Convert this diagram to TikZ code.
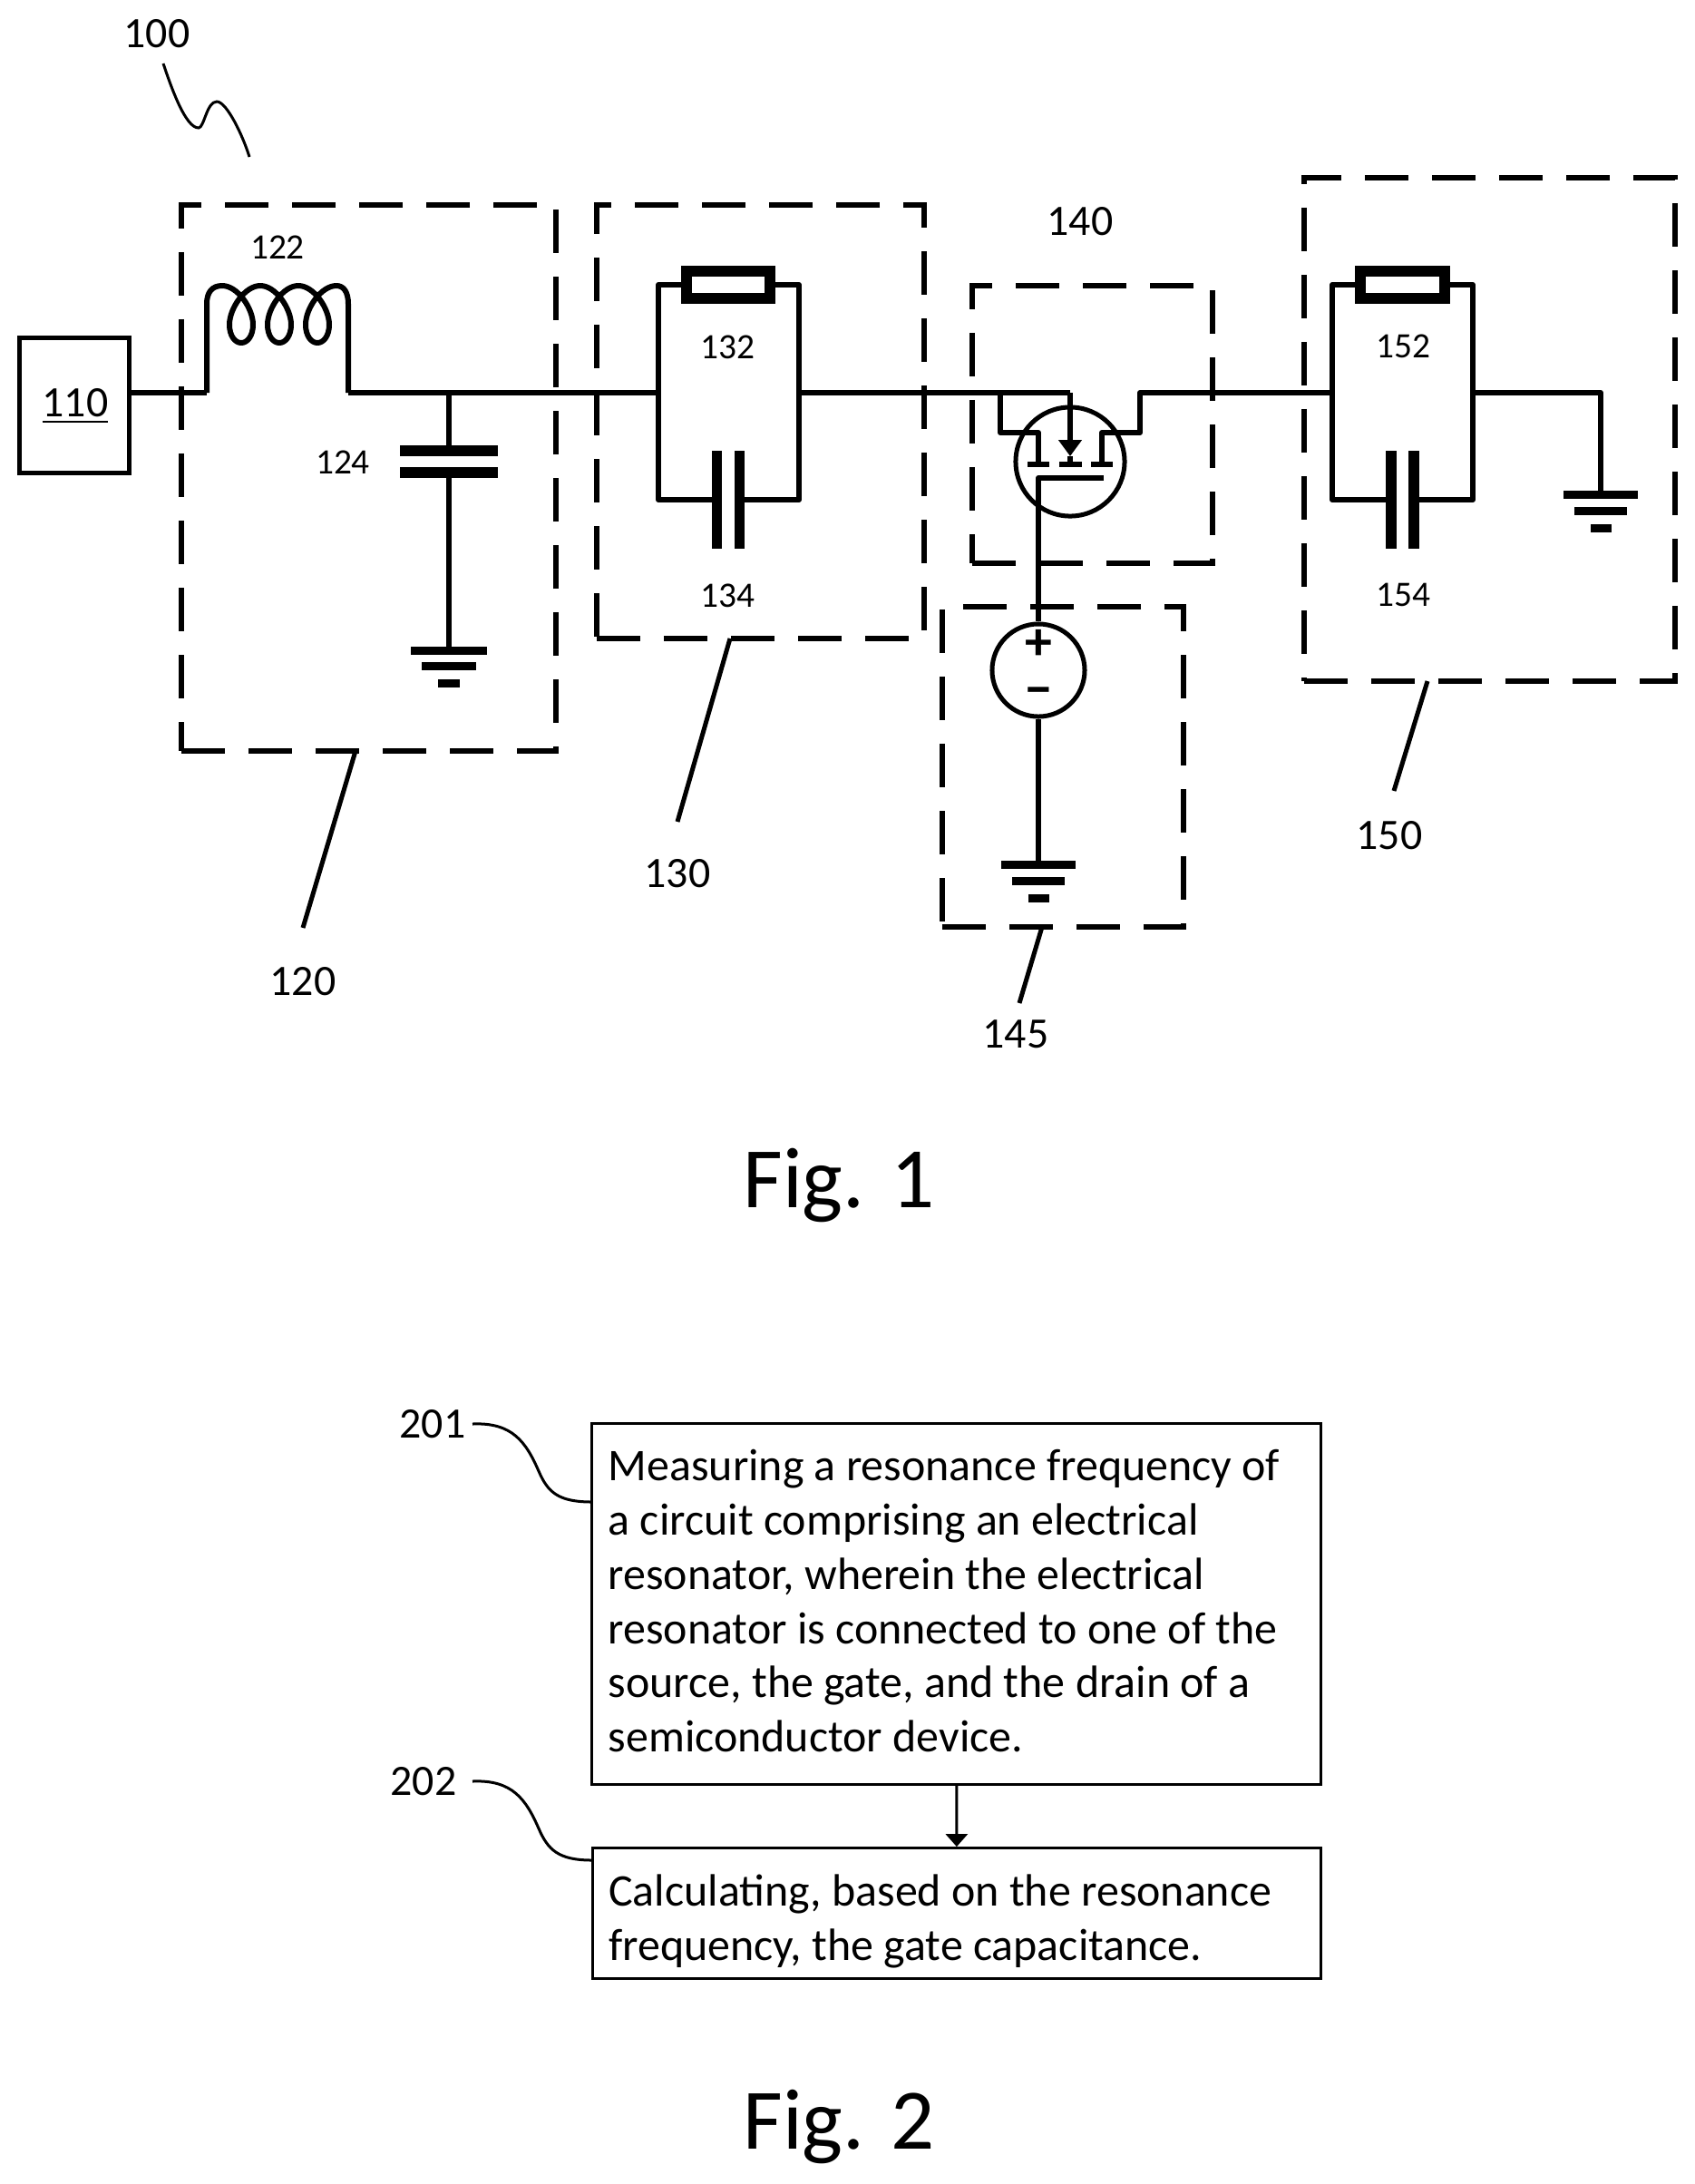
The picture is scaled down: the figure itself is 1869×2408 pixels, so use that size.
\documentclass[tikz,border=0pt]{standalone}
\usepackage{fontspec}
\setmainfont{Carlito}
\usetikzlibrary{arrows.meta}
\tikzstyle{wire} = [line width=0.06cm, line join=round]
\tikzstyle{leader} = [line width=0.05cm]
\tikzstyle{thinline} = [line width=0.03cm]
\tikzstyle{groupbox} = [rectangle, draw=black, line width=0.06cm,
dash pattern=on 0.48cm off 0.26cm, inner sep=0pt]
\tikzstyle{srcbox} = [rectangle, draw=black, line width=0.05cm,
minimum width=1.2cm, minimum height=1.48cm]
\tikzstyle{stepbox} = [rectangle, draw=black, line width=0.03cm,
minimum width=8.03cm, text width=7.67cm, align=flush left, inner xsep=0.18cm,
font=\fontsize{14.2}{17}\selectfont]
\tikzstyle{bar} = [rectangle, fill=black, inner sep=0pt, outer sep=0pt, minimum height=0.09cm]
\tikzstyle{plate} = [rectangle, fill=black, inner sep=0pt, outer sep=0pt]
\tikzstyle{resistor} = [rectangle, draw=black, line width=0.12cm,
minimum width=0.92cm, minimum height=0.30cm, inner sep=0pt]
\tikzstyle{numbig} = [inner sep=0pt, font=\fontsize{13.6}{16}\selectfont]
\tikzstyle{numsmall} = [inner sep=0pt, font=\fontsize{11.2}{13}\selectfont]
\tikzstyle{polarity} = [inner sep=0pt, align=center, font=\fontsize{17}{14.8}\selectfont\bfseries]
\tikzstyle{figtitle} = [inner sep=0pt, font=\fontsize{27}{32}\selectfont]
\tikzstyle{arrow} = [line width=0.03cm,-{Stealth[length=0.14cm,width=0.24cm,inset=0pt]}]
\begin{document}
\begin{tikzpicture}[x=0.01cm, y=-0.01cm]
	\useasboundingbox (0,0) rectangle (1869,2408);

	\node (num100) [numbig] at (173,37) {100};
	\coordinate (tail100a) at (180,70);
	\coordinate (tail100b) at (275,173);
	\draw [thinline] (tail100a) .. controls (190,100) and (205,141) .. (219,141)
		.. controls (225,141) and (228,112) .. (239,112)
		.. controls (250,112) and (268,150) .. (tail100b);

	\node (group120) [groupbox, minimum width=4.13cm, minimum height=6.02cm] at (406.5,527) {};
	\node (group130) [groupbox, minimum width=3.61cm, minimum height=4.78cm] at (838.5,465) {};
	\node (group140) [groupbox, minimum width=2.65cm, minimum height=3.06cm] at (1204.5,468) {};
	\node (group145) [groupbox, minimum width=2.66cm, minimum height=3.53cm] at (1172,845.5) {};
	\node (group150) [groupbox, minimum width=4.09cm, minimum height=5.55cm] at (1642.5,473.5) {};

	\node (src110) [srcbox] at (82,447) {};
	\node (num110) [numbig] at (83,448) {\underline{110}};
	\node (num122) [numsmall] at (306,273) {122};
	\node (num124) [numsmall] at (378,510) {124};
	\node (num132) [numsmall] at (802,383) {132};
	\node (num134) [numsmall] at (802,657) {134};
	\node (num152) [numsmall] at (1547,382) {152};
	\node (num154) [numsmall] at (1547,656) {154};
	\node (num120) [numbig] at (334,1082) {120};
	\node (num130) [numbig] at (747,963) {130};
	\node (num140) [numbig] at (1191,244) {140};
	\node (num145) [numbig] at (1120,1140) {145};
	\node (num150) [numbig] at (1532,921) {150};

	\coordinate (lead120a) at (392,828);
	\coordinate (lead120b) at (334,1023);
	\coordinate (lead130a) at (805,704);
	\coordinate (lead130b) at (747,906);
	\coordinate (lead145a) at (1149,1022);
	\coordinate (lead145b) at (1124,1106);
	\coordinate (lead150a) at (1574,751);
	\coordinate (lead150b) at (1537,872);
	\draw [leader] (lead120a) -- (lead120b);
	\draw [leader] (lead130a) -- (lead130b);
	\draw [leader] (lead145a) -- (lead145b);
	\draw [leader] (lead150a) -- (lead150b);

	\coordinate (coil122a) at (228,433);
	\coordinate (coil122b) at (384,433);
	\draw [wire] (src110.east |- coil122a) -- (coil122a);
	\draw [wire] (coil122a) -- (228,335) .. controls (228,322) and (234,315) .. (245,315)
		\foreach \dx in {0,42,84} {
			.. controls (262+\dx,315) and (279+\dx,340) .. (279+\dx,358)
			.. controls (279+\dx,370) and (273+\dx,378) .. (266+\dx,378)
			.. controls (259+\dx,378) and (253+\dx,370) .. (253+\dx,358)
			.. controls (253+\dx,340) and (270+\dx,315) .. (287+\dx,315)
		}
		.. controls (379,315) and (384,322) .. (384,335) -- (coil122b);

	\node (cap124a) [plate, minimum width=1.07cm, minimum height=0.12cm] at (495,497) {};
	\node (cap124b) [plate, minimum width=1.07cm, minimum height=0.12cm] at (495,521) {};
	\node (gnd124a) [bar, minimum width=0.83cm] at (495,717) {};
	\node (gnd124b) [bar, minimum width=0.59cm] at (495,734) {};
	\node (gnd124c) [bar, minimum width=0.23cm] at (495,753) {};
	\coordinate (tap124) at (495,433);
	\coordinate (join132a) at (726,433);
	\coordinate (join132b) at (881,433);
	\draw [wire] (coil122b) -- (join132a);
	\draw [wire] (tap124) -- (cap124a);
	\draw [wire] (cap124b) -- (gnd124a);

	\node (res132) [resistor] at (803,314) {};
	\node (cap134a) [plate, minimum width=0.11cm, minimum height=1.08cm] at (790,551) {};
	\node (cap134b) [plate, minimum width=0.11cm, minimum height=1.08cm] at (815,551) {};
	\draw [wire] (join132a) |- (res132.west);
	\draw [wire] (res132.east) -| (join132b);
	\draw [wire] (join132a) |- (cap134a.west);
	\draw [wire] (cap134b.east) -| (join132b);

	\node (fet140) [circle, draw=black, line width=0.05cm, minimum size=1.2cm, inner sep=0pt] at (1180,509) {};
	\node (plate140a) [plate, minimum width=0.24cm, minimum height=0.06cm] at (1145,512) {};
	\node (plate140b) [plate, minimum width=0.25cm, minimum height=0.06cm] at (1180,512) {};
	\node (plate140c) [plate, minimum width=0.24cm, minimum height=0.06cm] at (1215,512) {};
	\coordinate (gate140) at (1217,527);
	\coordinate (top140) at (1180,433);
	\coordinate (tip140) at (1180,503);
	\coordinate (tapa140) at (1103,477);
	\coordinate (tapb140) at (1103,433);
	\coordinate (drainb140) at (1257,477);
	\coordinate (drainc140) at (1257,433);
	\coordinate (join152a) at (1469,433);
	\coordinate (join152b) at (1624,433);
	\draw [wire] (join132b) -- (top140);
	\draw [wire, -{Stealth[length=0.18cm,width=0.25cm,inset=0pt]}] (top140) -- (tip140);
	\draw [wire] (tip140) -- (plate140b);
	\draw [wire] (plate140a.north) |- (tapa140) -- (tapb140);
	\draw [wire] (plate140c.north) |- (drainb140) -- (drainc140) -- (join152a);

	\node (vsrc145) [circle, draw=black, line width=0.05cm, minimum size=1.02cm, inner sep=0pt] at (1145,739) {};
	\node (sign145) [polarity] at (1145,737) {+\\−};
	\node (gnd145a) [bar, minimum width=0.82cm] at (1145,953) {};
	\node (gnd145b) [bar, minimum width=0.58cm] at (1145,971) {};
	\node (gnd145c) [bar, minimum width=0.23cm] at (1145,990) {};
	\draw [wire] (gate140) -| (vsrc145.north);
	\draw [wire] (vsrc145.south) -- (gnd145a);

	\node (res152) [resistor] at (1546.5,314) {};
	\node (cap154a) [plate, minimum width=0.12cm, minimum height=1.08cm] at (1534,551) {};
	\node (cap154b) [plate, minimum width=0.12cm, minimum height=1.08cm] at (1559,551) {};
	\node (gnd150a) [bar, minimum width=0.81cm] at (1765,545) {};
	\node (gnd150b) [bar, minimum width=0.58cm] at (1765,563) {};
	\node (gnd150c) [bar, minimum width=0.23cm] at (1765,582) {};
	\draw [wire] (join152a) |- (res152.west);
	\draw [wire] (res152.east) -| (join152b);
	\draw [wire] (join152a) |- (cap154a.west);
	\draw [wire] (cap154b.east) -| (join152b);
	\draw [wire] (join152b) -| (gnd150a.north);

	\node (fig1) [figtitle] at (925,1307) {Fig. 1};

	\node (step201) [stepbox, minimum height=3.97cm] at (1054.5,1768.5) {Measuring a resonance frequency of\\a circuit comprising an electrical\\resonator, wherein the electrical\\resonator is connected to one of the\\source, the gate, and the drain of a\\semiconductor device.\rule[-0.07cm]{0pt}{0.07cm}};
	\node (step202) [stepbox, minimum height=1.43cm] at (1055,2109.5) {\rule{0pt}{0.52cm}Calculating, based on the resonance\\frequency, the gate capacitance.};
	\draw [arrow] (step201) -- (step202);

	\node (num201) [numbig] at (477,1570) {201};
	\node (num202) [numbig] at (467,1964) {202};
	\coordinate (tail201a) at (521,1570);
	\coordinate (tail201b) at (653,1656);
	\coordinate (tail202a) at (521,1964);
	\coordinate (tail202b) at (653,2051);
	\draw [thinline] (tail201a) .. controls (565,1568) and (580,1590) .. (594,1622)
		.. controls (604,1645) and (615,1656) .. (tail201b);
	\draw [thinline] (tail202a) .. controls (565,1962) and (580,1984) .. (594,2016)
		.. controls (604,2039) and (615,2051) .. (tail202b);

	\node (fig2) [figtitle] at (925,2345) {Fig. 2};
\end{tikzpicture}
\end{document}
